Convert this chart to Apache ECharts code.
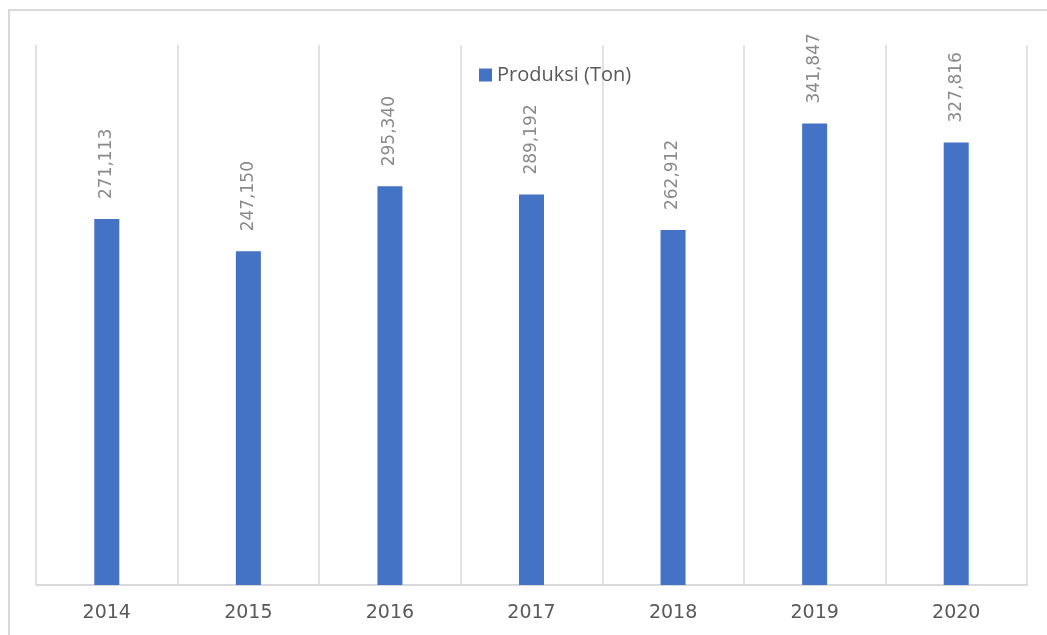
<!DOCTYPE html>
<html>
<head>
<meta charset="utf-8">
<script src="https://cdn.jsdelivr.net/npm/echarts@6/dist/echarts.min.js"></script>
<style>
  html, body { margin: 0; padding: 0; background: #fff; }
  #chart { width: 1047px; height: 635px; }
</style>
</head>
<body>
<div id="chart"></div>
<script>
const years = ['2014', '2015', '2016', '2017', '2018', '2019', '2020']
const produksi = [271113, 247150, 295340, 289192, 262912, 341847, 327816]
const seriesName = 'Produksi (Ton)'

const chart = echarts.init(document.getElementById('chart'))
chart.setOption({
  backgroundColor: '#fff',
  animation: false,
  graphic: [
    {
      type: 'rect',
      shape: { x: 9, y: 10, width: 1200, height: 800 },
      style: { fill: 'none', stroke: '#d9d9d9', lineWidth: 2 },
      silent: true
    }
  ],
  legend: {
    data: [seriesName],
    left: 474,
    top: 60,
    itemWidth: 13,
    itemHeight: 13,
    itemGap: 4,
    icon: 'rect',
    textStyle: { color: '#595959', fontSize: 20, fontFamily: 'Open Sans' }
  },
  grid: { left: 36, right: 20, top: 45, bottom: 50 },
  xAxis: {
    type: 'category',
    data: years,
    axisLine: { lineStyle: { color: '#d9d9d9', width: 2 } },
    axisTick: { show: false },
    splitLine: { show: true, lineStyle: { color: '#d9d9d9', width: 1.5 } },
    axisLabel: { color: '#595959', fontSize: 19, fontFamily: 'DejaVu Sans', margin: 19 }
  },
  yAxis: {
    type: 'value',
    min: 0,
    max: 400000,
    show: false,
    splitLine: { show: false }
  },
  series: [
    {
      name: seriesName,
      type: 'bar',
      data: produksi,
      barWidth: 25,
      itemStyle: { color: '#4472c4' },
      label: {
        show: true,
        position: 'top',
        distance: 20,
        rotate: 90,
        align: 'left',
        verticalAlign: 'middle',
        color: '#8a8a8a',
        fontSize: 17,
        fontFamily: 'DejaVu Sans',
        formatter: (p) => p.value.toLocaleString('en-US')
      }
    }
  ]
})
</script>
</body>
</html>
